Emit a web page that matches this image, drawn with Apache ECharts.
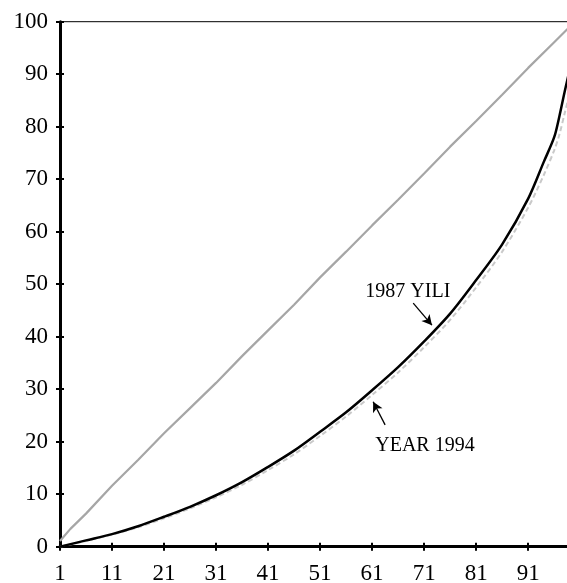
<!DOCTYPE html>
<html>
<head>
<meta charset="utf-8">
<script src="https://cdn.jsdelivr.net/npm/echarts@6/dist/echarts.min.js"></script>
<style>
html,body{margin:0;padding:0;background:#fff;}
#chart{width:567px;height:583px;}
</style>
</head>
<body>
<div id="chart"></div>
<script>
// Population share (cumulative %) on x, income share (cumulative %) on y
const equalityX = [1, 3, 6, 11, 16, 21, 26, 31, 36, 41, 46, 51, 56, 61, 66, 71, 76, 81, 86, 91, 96, 100];
const equalityY = [1.1, 3.4, 6.3, 11.6, 16.5, 21.6, 26.4, 31.2, 36.3, 41.2, 46.1, 51.3, 56.2, 61.2, 66.1, 71.1, 76.2, 81.1, 86.1, 91.2, 96.1, 100];

const curveX = [1, 6, 11, 16, 21, 26, 31, 36, 41, 46, 51, 56, 61, 66, 71, 76, 81, 86, 91, 94, 96, 97, 98, 99, 100];
const y1987 = [0, 1.2, 2.4, 3.9, 5.7, 7.6, 9.8, 12.3, 15.2, 18.3, 21.9, 25.6, 29.8, 34.2, 39.1, 44.4, 50.8, 57.6, 66.3, 73.3, 78.0, 82.0, 86.6, 91.0, 96.0];
const y1994 = [0, 1.1, 2.3, 3.7, 5.4, 7.3, 9.4, 11.8, 14.6, 17.6, 21.1, 24.8, 28.9, 33.2, 38.0, 43.2, 49.4, 56.2, 64.6, 70.8, 75.5, 78.5, 82.5, 86.5, 92.0];

const yTicks = [0, 10, 20, 30, 40, 50, 60, 70, 80, 90, 100];
const xTickLabels = ['1', '11', '21', '31', '41', '51', '61', '71', '81', '91'];

const annotationTexts = ['1987 YILI', 'YEAR 1994'];
const annotationPos = [[59.7, 48.5], [61.6, 19.2]];
const arrowFrom = [[68.9, 46.4], [63.5, 23.2]];
const arrowTo = [[72.5, 42.2], [61.2, 27.6]];

const FONT = '"Liberation Serif", "DejaVu Serif", serif';

function pairs(xs, ys) { return xs.map((x, i) => [x, ys[i]]); }

const chart = echarts.init(document.getElementById('chart'), null, {renderer: 'canvas'});

const tickInside = {show: true, inside: true, length: 4, lineStyle: {color: '#000', width: 2}};
const tickOutside = {show: true, inside: false, length: 4, lineStyle: {color: '#000', width: 2}};

const option = {
  animation: false,
  backgroundColor: '#fff',
  grid: {left: 60, right: -8, top: 21.7, bottom: 36.3, outerBoundsMode: 'none', containLabel: false,
         show: true, borderColor: '#000', borderWidth: 1, backgroundColor: 'transparent'},
  xAxis: [
    {
      type: 'value', min: 1, max: 100, interval: 10,
      axisLine: {show: true, onZero: false, lineStyle: {color: '#000', width: 3}},
      axisTick: tickOutside,
      splitLine: {show: false},
      axisLabel: {
        show: true, margin: 16, color: '#000', fontFamily: FONT, fontSize: 23, showMaxLabel: false,
        formatter: function (v) { const s = String(Math.round(v)); return xTickLabels.indexOf(s) >= 0 ? s : ''; }
      }
    },
    {
      type: 'value', min: 1, max: 100, interval: 10, position: 'bottom', offset: 0,
      axisLine: {show: false}, axisTick: tickInside, axisLabel: {show: false}, splitLine: {show: false}
    }
  ],
  yAxis: [
    {
      type: 'value', min: 0, max: 100, interval: 10,
      axisLine: {show: true, onZero: false, lineStyle: {color: '#000', width: 3}},
      axisTick: tickOutside,
      splitLine: {show: false},
      axisLabel: {
        show: true, margin: 12, color: '#000', fontFamily: FONT, fontSize: 23,
        formatter: function (v) { return yTicks.indexOf(v) >= 0 ? String(v) : ''; }
      }
    },
    {
      type: 'value', min: 0, max: 100, interval: 10, position: 'left', offset: 0,
      axisLine: {show: false}, axisTick: tickInside, axisLabel: {show: false}, splitLine: {show: false}
    }
  ],
  series: [
    {
      name: 'equality', type: 'line', data: pairs(equalityX, equalityY),
      showSymbol: false, symbol: 'none', smooth: false,
      lineStyle: {color: '#a6a6a6', width: 2.2}
    },
    {
      name: 'YEAR 1994', type: 'line', data: pairs(curveX, y1994),
      showSymbol: false, symbol: 'none', smooth: 0.3,
      lineStyle: {color: '#c9c9c9', width: 2, type: [5, 3]}
    },
    {
      name: '1987 YILI', type: 'line', data: pairs(curveX, y1987),
      showSymbol: false, symbol: 'none', smooth: 0.3,
      lineStyle: {color: '#000', width: 2.5},
      markPoint: {
        silent: true,
        symbol: 'circle', symbolSize: 0,
        data: annotationTexts.map((t, i) => ({
          coord: annotationPos[i], value: t,
          label: {show: true, position: 'right', distance: 0, formatter: t, color: '#000', fontFamily: FONT, fontSize: 20}
        }))
      },
      markLine: {
        silent: true,
        symbol: ['none', 'arrow'], symbolSize: [8, 10],
        label: {show: false},
        lineStyle: {color: '#000', width: 1.3, type: 'solid'},
        data: arrowFrom.map((p, i) => [{coord: p}, {coord: arrowTo[i]}])
      }
    }
  ]
};
chart.setOption(option);
</script>
</body>
</html>
